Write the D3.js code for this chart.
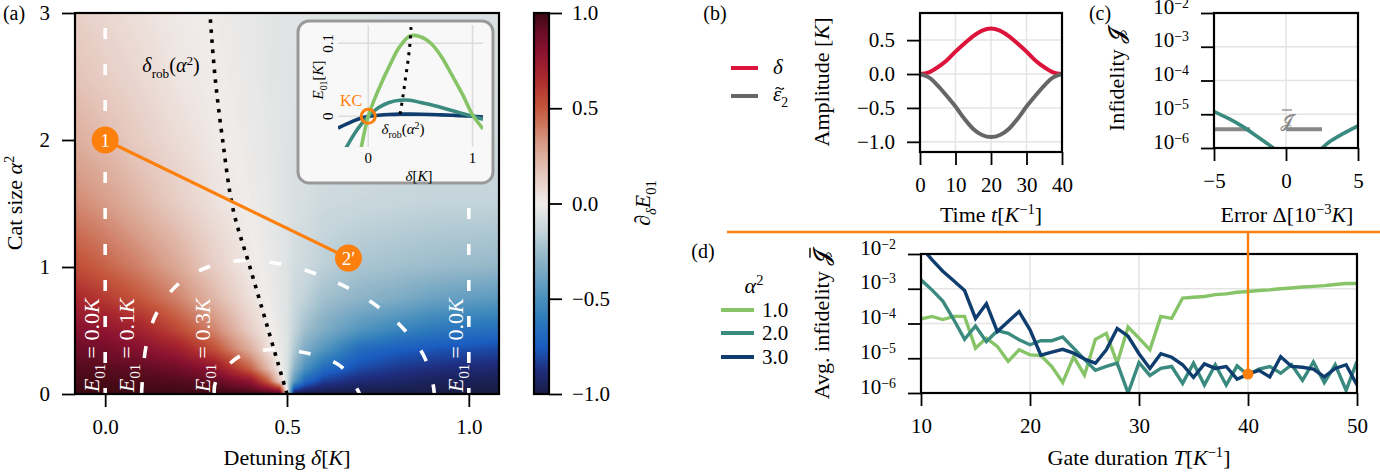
<!DOCTYPE html>
<html>
<head>
<meta charset="utf-8">
<script src="https://cdn.jsdelivr.net/npm/d3@7"></script>
<style>
  body { margin: 0; background: #fff; }
</style>
</head>
<body>
<div id="fig"></div>
<script>
// ---- panel (a): dE01/d(delta), rows = alpha^2, columns = delta
const gridDelta = [-0.1, 0, 0.1, 0.2, 0.3, 0.4, 0.45, 0.48, 0.5, 0.52, 0.55, 0.6, 0.7, 0.8, 0.9, 1.0, 1.1];
const gridAlpha = [0, 0.1, 0.2, 0.35, 0.5, 0.75, 1.0, 1.5, 2.0, 2.5, 3.0];
const gridSlope = [
  [1, 1, 1, 1, 1, 1, 1, 1, 0, -1, -1, -1, -1, -1, -1, -1, -1],
  [0.98, 0.97, 0.96, 0.95, 0.92, 0.78, 0.47, 0.13, -0.1, -0.45, -0.7, -0.83, -0.9, -0.92, -0.95, -0.96, -0.97],
  [0.955, 0.935, 0.92, 0.88, 0.78, 0.47, 0.2, 0.015, -0.08, -0.3, -0.5, -0.68, -0.8, -0.85, -0.88, -0.9, -0.91],
  [0.9, 0.87, 0.81, 0.72, 0.53, 0.25, 0.06, -0.02, -0.06, -0.2, -0.35, -0.47, -0.68, -0.74, -0.77, -0.79, -0.81],
  [0.82, 0.78, 0.7, 0.55, 0.38, 0.13, 0.015, -0.03, -0.06, -0.15, -0.25, -0.34, -0.48, -0.56, -0.62, -0.65, -0.67],
  [0.69, 0.6, 0.5, 0.38, 0.22, 0.05, -0.01, -0.04, -0.06, -0.12, -0.16, -0.24, -0.3, -0.34, -0.4, -0.43, -0.45],
  [0.55, 0.47, 0.38, 0.27, 0.13, 0.015, -0.02, -0.04, -0.06, -0.1, -0.12, -0.17, -0.22, -0.24, -0.26, -0.27, -0.28],
  [0.38, 0.31, 0.22, 0.13, 0.05, -0.01, -0.03, -0.05, -0.06, -0.08, -0.09, -0.12, -0.13, -0.14, -0.15, -0.15, -0.15],
  [0.26, 0.2, 0.13, 0.07, 0.015, -0.02, -0.035, -0.05, -0.06, -0.07, -0.07, -0.09, -0.1, -0.1, -0.1, -0.1, -0.1],
  [0.18, 0.13, 0.085, 0.03, 0, -0.025, -0.04, -0.05, -0.05, -0.06, -0.06, -0.07, -0.08, -0.08, -0.08, -0.08, -0.08],
  [0.13, 0.09, 0.05, 0.015, -0.01, -0.03, -0.04, -0.05, -0.05, -0.05, -0.05, -0.06, -0.06, -0.07, -0.07, -0.07, -0.07]
];
const cmapStops = [-1, -0.88, -0.75, -0.6, -0.5, -0.3, -0.15, 0, 0.15, 0.3, 0.5, 0.65, 0.8, 0.9, 1];
const cmapColors = ["#181c43", "#1f2c7c", "#1a5cc0", "#2f7cbc", "#4a90bd", "#8cb3c7", "#c3d4da", "#f0ecea",
  "#e6c9bf", "#d9a08c", "#c4573c", "#ad2b2e", "#8a1230", "#690d25", "#3c0912"];
const cbarTicks = [-1, -0.5, 0, 0.5, 1];

// contour lines E01 = const (white dashed)
const zeroContourDelta = [0, 1];
const contour01Delta = [0.1, 0.112, 0.141, 0.198, 0.283, 0.37, 0.47, 0.571, 0.661, 0.744, 0.815, 0.875, 0.902, 0.905];
const contour01Alpha = [0.0, 0.37, 0.635, 0.858, 1.0, 1.05, 1.03, 0.955, 0.845, 0.70, 0.53, 0.307, 0.07, 0];
const contour03Delta = [0.3, 0.304, 0.368, 0.458, 0.557, 0.649, 0.7];
const contour03Alpha = [0.0, 0.097, 0.294, 0.35, 0.32, 0.215, 0.0];
// delta_rob(alpha^2) dotted
const robAlpha = [0, 0.5, 1.0, 1.45, 2.0, 2.5, 3.0];
const robDelta = [0.5, 0.449, 0.398, 0.352, 0.323, 0.302, 0.288];
// orange path 1 -> 2'
const pathDelta = [0, 0.669];
const pathAlpha = [2, 1.07];
const pathLabels = ["1", "2\u2032"];

// inset E01(delta)
const insetDelta = [-0.29, -0.2, -0.1, 0, 0.1, 0.2, 0.3, 0.4, 0.5, 0.6, 0.7, 0.8, 0.9, 1.0, 1.1];
const insetE1 = [-0.22, -0.15, -0.068, 0, 0.037, 0.068, 0.095, 0.11, 0.109, 0.1, 0.082, 0.057, 0.031, 0.002, -0.017];
const insetE2 = [-0.065, -0.04, -0.017, 0, 0.012, 0.019, 0.022, 0.022, 0.019, 0.016, 0.012, 0.008, 0.004, 0.0, -0.004];
const insetE3 = [-0.016, -0.01, -0.004, 0, 0.0015, 0.0025, 0.003, 0.003, 0.0028, 0.0025, 0.002, 0.0015, 0.001, 0.0, -0.001];
const insetRobDelta = [0.305, 0.33, 0.355, 0.38, 0.4, 0.41];
const insetRobE = [0.003, 0.025, 0.05, 0.075, 0.1, 0.122];

// ---- panel (b): pulse shapes
const timeB = [0, 2.5, 5, 7.5, 10, 12.5, 15, 17.5, 20, 22.5, 25, 27.5, 30, 32.5, 35, 37.5, 40];
const deltaB = [0, 0.025, 0.1, 0.2, 0.33, 0.45, 0.56, 0.64, 0.67, 0.64, 0.56, 0.45, 0.33, 0.2, 0.1, 0.025, 0];
const eps2B = [0, -0.05, -0.17, -0.32, -0.48, -0.66, -0.81, -0.9, -0.93, -0.9, -0.81, -0.66, -0.48, -0.32, -0.17, -0.05, 0];

// ---- panel (c): infidelity vs error
const errC = [-5, -4, -3, -2, -1, 0, 1, 2, 3, 4, 5];
const infidC = [1.2e-5, 7.5e-6, 4.3e-6, 2.2e-6, 1.1e-6, 5.5e-7, 4e-7, 6.5e-7, 1.5e-6, 2.7e-6, 4.5e-6];
const avgInfidC = 3.6e-6;

// ---- panel (d): avg infidelity vs gate duration
const gateT = d3.range(10, 51);
const alphaLabels = ["1.0", "2.0", "3.0"];
const seriesColors = ["#86c467", "#3a8a7f", "#0f3d6e"];
const infidA1 = [1.35e-4, 1.6e-4, 1.3e-4, 1.6e-4, 1.6e-4, 1.95e-5, 3.8e-5, 2.2e-5, 8.1e-6, 1.75e-5,
  1.25e-5, 1.2e-5, 5.8e-6, 2.0e-6, 1.1e-5, 3.3e-6, 3.5e-5, 5.2e-5, 7.2e-6, 7.9e-5,
  3.8e-5, 1.75e-5, 1.6e-4, 1.4e-4, 5.4e-4, 5.7e-4, 6.0e-4, 6.8e-4, 7.1e-4, 7.9e-4,
  8.3e-4, 8.9e-4, 9.3e-4, 1.0e-3, 1.05e-3, 1.12e-3, 1.17e-3, 1.23e-3, 1.32e-3, 1.41e-3, 1.41e-3];
const infidA2 = [1.8e-3, 9.3e-4, 4.4e-4, 1.3e-4, 3.5e-5, 8.5e-5, 3.0e-5, 6.2e-5, 5.2e-5, 3.4e-5,
  2.45e-5, 3.2e-5, 3.2e-5, 4.1e-5, 1.95e-5, 9.3e-6, 4.5e-6, 5.8e-6, 7.2e-6, 1.0e-6,
  7.5e-6, 3.2e-6, 5.1e-6, 5.8e-6, 1.9e-6, 7.2e-6, 1.7e-6, 6.5e-6, 1.7e-6, 6.0e-6,
  3.3e-6, 4.9e-6, 5.8e-6, 3.7e-6, 6.5e-6, 2.3e-6, 7.8e-6, 2.0e-6, 6.5e-6, 1.2e-6, 8.1e-6];
const infidA3 = [1.6e-2, 6.9e-3, 3.2e-3, 1.7e-3, 8.9e-4, 1.4e-4, 3.7e-4, 5.9e-5, 1.15e-4, 2.2e-4,
  6.6e-5, 1.23e-5, 1.5e-5, 1.8e-5, 1.4e-5, 9.5e-6, 7.2e-6, 1.75e-5, 7.2e-5, 4.3e-5,
  1.35e-5, 5.1e-6, 1.35e-5, 1.07e-5, 6.5e-6, 2.8e-6, 6.9e-6, 5.1e-6, 5.8e-6, 2.5e-6,
  3.5e-6, 4.5e-6, 2.9e-6, 1.1e-5, 5.8e-6, 5.5e-6, 4.9e-6, 2.9e-6, 5.1e-6, 6.5e-6, 1.7e-6];
const markT = 40;
const markInfid = 3.5e-6;

const logTickValues = [1e-2, 1e-3, 1e-4, 1e-5, 1e-6];

// ---------------------------------------------------------------
const FONT = '"Liberation Serif", "DejaVu Serif", serif';
const ORANGE = "#fd7f0c";
const GRID = "#e4e4e4";
const FS = 22;      // axis labels
const TS = 21;      // tick labels
const TICK = 13, PAD = 12;
const SCRIPT_J = "\ud835\udcd9";

const svg = d3.select("#fig").append("svg")
  .attr("width", 1380).attr("height", 472)
  .style("font-family", FONT);

// rich text helper: parts = [[string, flags]], flags i=italic, b=sub, p=sup
function rich(text, parts, size, supShift = 0.36) {
  let cur = 0;
  parts.forEach(([s, f = ""]) => {
    const off = f.includes("b") ? 0.28 * size : f.includes("p") ? -supShift * size : 0;
    const ts = text.append("tspan").attr("dy", off - cur).text(s);
    cur = off;
    if (f.includes("i")) ts.attr("font-style", "italic");
    if (f.includes("b") || f.includes("p")) ts.attr("font-size", 0.66 * size);
  });
  return text;
}

function label(x, y, parts, opts = {}) {
  const t = svg.append("text")
    .attr("x", x).attr("y", y)
    .attr("text-anchor", opts.anchor || "middle")
    .attr("font-size", opts.size || FS)
    .attr("fill", opts.fill || "#000");
  if (opts.rotate) t.attr("transform", `rotate(${opts.rotate},${x},${y})`);
  return rich(t, parts, opts.size || FS);
}

function styleAxis(g, size = TS) {
  g.select(".domain").remove();
  g.selectAll(".tick line").attr("stroke", "#000").attr("stroke-width", 1.8);
  g.selectAll(".tick text").attr("font-size", size).attr("fill", "#000").attr("font-family", FONT);
}

function logLabels(g, size = TS) {
  g.selectAll(".tick text").each(function (d) {
    const t = d3.select(this).text(null).attr("dy", "0.5em");
    rich(t, [["10"], ["\u2212" + Math.round(-Math.log10(d)), "p"]], size, 0.28);
  });
}

function frame(x0, x1, y0, y1) {
  svg.append("rect").attr("x", x0).attr("y", y0)
    .attr("width", x1 - x0).attr("height", y1 - y0)
    .attr("fill", "none").attr("stroke", "#000").attr("stroke-width", 2.2);
}

function clip(id, x0, x1, y0, y1) {
  svg.append("clipPath").attr("id", id).append("rect")
    .attr("x", x0).attr("y", y0).attr("width", x1 - x0).attr("height", y1 - y0);
  return `url(#${id})`;
}

// ================= panel (a) =================
const A = { x0: 75, x1: 499, y0: 13, y1: 394 };
const xA = d3.scaleLinear().domain([-0.083, 1.083]).range([A.x0, A.x1]);
const yA = d3.scaleLinear().domain([0, 3]).range([A.y1, A.y0]);
const color = d3.scaleLinear().domain(cmapStops).range(cmapColors).clamp(true);

function gridValue(d, a) {
  const i = Math.max(0, Math.min(gridDelta.length - 2, d3.bisectRight(gridDelta, d) - 1));
  const j = Math.max(0, Math.min(gridAlpha.length - 2, d3.bisectRight(gridAlpha, a) - 1));
  const tx = Math.max(0, Math.min(1, (d - gridDelta[i]) / (gridDelta[i + 1] - gridDelta[i])));
  const ty = Math.max(0, Math.min(1, (a - gridAlpha[j]) / (gridAlpha[j + 1] - gridAlpha[j])));
  return gridSlope[j][i] * (1 - tx) * (1 - ty) + gridSlope[j][i + 1] * tx * (1 - ty)
    + gridSlope[j + 1][i] * (1 - tx) * ty + gridSlope[j + 1][i + 1] * tx * ty;
}

// heatmap drawn into an image
const W = A.x1 - A.x0, H = A.y1 - A.y0;
const canvas = document.createElement("canvas");
canvas.width = W; canvas.height = H;
const ctx = canvas.getContext("2d");
const img = ctx.createImageData(W, H);
const lut = d3.range(513).map(k => d3.rgb(color(-1 + 2 * k / 512)));
for (let py = 0; py < H; py++) {
  const a = yA.invert(A.y0 + py + 0.5);
  for (let px = 0; px < W; px++) {
    const v = gridValue(xA.invert(A.x0 + px + 0.5), a);
    const c = lut[Math.round((Math.max(-1, Math.min(1, v)) + 1) * 256)];
    const k = 4 * (py * W + px);
    img.data[k] = c.r; img.data[k + 1] = c.g; img.data[k + 2] = c.b; img.data[k + 3] = 255;
  }
}
ctx.putImageData(img, 0, 0);
svg.append("image").attr("x", A.x0).attr("y", A.y0).attr("width", W).attr("height", H)
  .attr("preserveAspectRatio", "none").attr("href", canvas.toDataURL());

const clipA = clip("clipA", A.x0, A.x1, A.y0, A.y1);
const gA = svg.append("g").attr("clip-path", clipA);
const lineA = d3.line().x(d => xA(d[0])).y(d => yA(d[1])).curve(d3.curveCatmullRom);

zeroContourDelta.forEach(d => {
  gA.append("path").datum([[d, 3], [d, 0]]).attr("d", lineA)
    .attr("fill", "none").attr("stroke", "#fff").attr("stroke-width", 3.6)
    .attr("stroke-dasharray", "11,25").attr("stroke-dashoffset", 21);
});
[[contour01Delta, contour01Alpha], [contour03Delta, contour03Alpha]].forEach(([ds, as]) => {
  gA.append("path").datum(d3.zip(ds, as)).attr("d", lineA)
    .attr("fill", "none").attr("stroke", "#fff").attr("stroke-width", 3.6)
    .attr("stroke-dasharray", "12,24");
});
gA.append("path").datum(d3.zip(robDelta, robAlpha)).attr("d", lineA)
  .attr("fill", "none").attr("stroke", "#000").attr("stroke-width", 3.6)
  .attr("stroke-dasharray", "3.6,6.4");

// contour labels
const e01Label = (x, val) => label(x, 392, [["E", "i"], ["01", "b"], [" = " + val], ["K", "i"]],
  { anchor: "start", rotate: -90, fill: "#fff", size: 22 });
e01Label(99, "0.0");
e01Label(134, "0.1");
e01Label(210, "0.3");
e01Label(463, "0.0");

label(171, 72, [["\u03b4", "i"], ["rob", "b"], ["("], ["\u03b1", "i"], ["2", "p"], [")"]], { size: 20 });

// orange path 1 -> 2'
const pathPts = d3.zip(pathDelta, pathAlpha);
gA.append("line")
  .attr("x1", xA(pathPts[0][0])).attr("y1", yA(pathPts[0][1]))
  .attr("x2", xA(pathPts[1][0])).attr("y2", yA(pathPts[1][1]))
  .attr("stroke", ORANGE).attr("stroke-width", 3.2);
pathPts.forEach((p, i) => {
  svg.append("circle").attr("cx", xA(p[0])).attr("cy", yA(p[1])).attr("r", 13.5).attr("fill", ORANGE);
  svg.append("text").attr("x", xA(p[0])).attr("y", yA(p[1]) + 6.5)
    .attr("text-anchor", "middle").attr("fill", "#fff").attr("font-size", 19).text(pathLabels[i]);
});

// inset
const IN = { x0: 338, x1: 483, y0: 25, y1: 147 };
svg.append("rect").attr("x", 298).attr("y", 21).attr("width", 195).attr("height", 162)
  .attr("rx", 11).attr("fill", "#f8f8f8").attr("stroke", "#999").attr("stroke-width", 3);
const xi = d3.scaleLinear().domain([-0.29, 1.1]).range([IN.x0, IN.x1]);
const yi = d3.scaleLinear().domain([-0.042, 0.125]).range([IN.y1, IN.y0]);
[0, 1].forEach(d => svg.append("line").attr("x1", xi(d)).attr("x2", xi(d)).attr("y1", IN.y0).attr("y2", IN.y1)
  .attr("stroke", "#dcdcdc").attr("stroke-width", 1.6));
[0, 0.1].forEach(d => svg.append("line").attr("x1", IN.x0).attr("x2", IN.x1).attr("y1", yi(d)).attr("y2", yi(d))
  .attr("stroke", "#dcdcdc").attr("stroke-width", 1.6));
const clipIn = clip("clipIn", IN.x0, IN.x1, IN.y0, IN.y1);
const gIn = svg.append("g").attr("clip-path", clipIn);
const lineIn = d3.line().x(d => xi(d[0])).y(d => yi(d[1])).curve(d3.curveCatmullRom);
[insetE3, insetE2, insetE1].forEach((ys, k) => {
  gIn.append("path").datum(d3.zip(insetDelta, ys)).attr("d", lineIn)
    .attr("fill", "none").attr("stroke", seriesColors[2 - k]).attr("stroke-width", 3.6);
});
gIn.append("path").datum(d3.zip(insetRobDelta, insetRobE))
  .attr("d", d3.line().x(d => xi(d[0])).y(d => yi(d[1])).curve(d3.curveMonotoneY))
  .attr("fill", "none").attr("stroke", "#000").attr("stroke-width", 3)
  .attr("stroke-dasharray", "3,5.5");
svg.append("circle").attr("cx", xi(0)).attr("cy", yi(0)).attr("r", 7)
  .attr("fill", "none").attr("stroke", ORANGE).attr("stroke-width", 3);
svg.append("text").attr("x", 351).attr("y", 106).attr("text-anchor", "middle")
  .attr("font-size", 16).attr("fill", ORANGE).text("KC");
label(403, 134, [["\u03b4", "i"], ["rob", "b"], ["("], ["\u03b1", "i"], ["2", "p"], [")"]], { size: 15 });
[0, 1].forEach(d => svg.append("text").attr("x", xi(d)).attr("y", 163).attr("text-anchor", "middle")
  .attr("font-size", 15).text(d));
[0, 0.1].forEach(d => svg.append("text").attr("x", 333).attr("y", yi(d)).attr("text-anchor", "middle")
  .attr("font-size", 15).attr("transform", `rotate(-90,333,${yi(d)})`).text(d));
label(323, 80, [["E", "i"], ["01", "b"], ["["], ["K", "i"], ["]"]], { size: 15, rotate: -90 });
label(419, 181, [["\u03b4", "i"], ["["], ["K", "i"], ["]"]], { size: 15 });

frame(A.x0, A.x1, A.y0, A.y1);
const axA = svg.append("g").attr("transform", `translate(0,${A.y1})`)
  .call(d3.axisBottom(xA).tickValues([0, 0.5, 1]).tickFormat(d3.format(".1f")).tickSize(TICK).tickPadding(PAD));
styleAxis(axA);
const ayA = svg.append("g").attr("transform", `translate(${A.x0},0)`)
  .call(d3.axisLeft(yA).tickValues([0, 1, 2, 3]).tickFormat(d3.format("d")).tickSize(TICK).tickPadding(PAD));
styleAxis(ayA);
label(287, 465, [["Detuning "], ["\u03b4", "i"], ["["], ["K", "i"], ["]"]]);
label(22, 203, [["Cat size "], ["\u03b1", "i"], ["2", "p"]], { rotate: -90 });
label(14, 20, [["(a)"]], { size: 20 });

// colorbar
const CB = { x0: 534, x1: 549 };
const cbScale = d3.scaleLinear().domain([-1, 1]).range([A.y1, A.y0]);
const grad = svg.append("defs").append("linearGradient").attr("id", "cbGrad")
  .attr("x1", 0).attr("y1", 1).attr("x2", 0).attr("y2", 0);
cmapStops.forEach((s, i) => grad.append("stop").attr("offset", (s + 1) / 2).attr("stop-color", cmapColors[i]));
svg.append("rect").attr("x", CB.x0).attr("y", A.y0).attr("width", CB.x1 - CB.x0).attr("height", A.y1 - A.y0)
  .attr("fill", "url(#cbGrad)");
frame(CB.x0, CB.x1, A.y0, A.y1);
const cbAx = svg.append("g").attr("transform", `translate(${CB.x1},0)`)
  .call(d3.axisRight(cbScale).tickValues(cbarTicks).tickFormat(d3.format(".1f")).tickSize(TICK).tickPadding(10));
styleAxis(cbAx);
label(650, 203, [["\u2202"], ["\u03b4", "bi"], ["E", "i"], ["01", "b"]], { rotate: -90, size: 22 });

// ================= panel (b) =================
const B = { x0: 920, x1: 1062, y0: 13, y1: 152 };
const xB = d3.scaleLinear().domain([0, 40]).range([B.x0, B.x1]);
const yB = d3.scaleLinear().domain([-1.15, 0.9]).range([B.y1, B.y0]);
[10, 20, 30].forEach(t => svg.append("line").attr("x1", xB(t)).attr("x2", xB(t)).attr("y1", B.y0).attr("y2", B.y1)
  .attr("stroke", GRID).attr("stroke-width", 1.5));
[0.5, 0, -0.5, -1].forEach(v => svg.append("line").attr("x1", B.x0).attr("x2", B.x1).attr("y1", yB(v)).attr("y2", yB(v))
  .attr("stroke", GRID).attr("stroke-width", 1.5));
const lineB = d3.line().x(d => xB(d[0])).y(d => yB(d[1])).curve(d3.curveMonotoneX);
const pulseColors = ["#dc143c", "#666666"];
[deltaB, eps2B].forEach((ys, k) => {
  svg.append("path").datum(d3.zip(timeB, ys)).attr("d", lineB)
    .attr("fill", "none").attr("stroke", pulseColors[k]).attr("stroke-width", 4);
});
frame(B.x0, B.x1, B.y0, B.y1);
const axB = svg.append("g").attr("transform", `translate(0,${B.y1})`)
  .call(d3.axisBottom(xB).tickValues([0, 10, 20, 30, 40]).tickSize(TICK).tickPadding(PAD));
styleAxis(axB);
const ayB = svg.append("g").attr("transform", `translate(${B.x0},0)`)
  .call(d3.axisLeft(yB).tickValues([0.5, 0, -0.5, -1]).tickFormat(d3.format(".1f")).tickSize(TICK).tickPadding(PAD));
styleAxis(ayB);
label(991, 222, [["Time "], ["t", "i"], ["["], ["K", "i"], ["\u22121", "p"], ["]"]]);
label(829, 82, [["Amplitude ["], ["K", "i"], ["]"]], { rotate: -90 });
label(715, 20, [["(b)"]], { size: 20 });
// legend (b)
[68, 96].forEach((y, k) => {
  svg.append("line").attr("x1", 731).attr("x2", 758).attr("y1", y).attr("y2", y)
    .attr("stroke", pulseColors[k]).attr("stroke-width", 4);
});
label(773, 74, [["\u03b4", "i"]], { anchor: "start", size: 21 });
label(773, 101, [["\u03b5", "i"], ["2", "b"]], { anchor: "start", size: 21 });
// tilde accent over epsilon
svg.append("path").attr("d", "M775.5,89 q2,-2.6 4.2,-0.6 t4.2,-0.6")
  .attr("fill", "none").attr("stroke", "#000").attr("stroke-width", 1.2);

// ================= panel (c) =================
const C = { x0: 1214, x1: 1358, y0: 13, y1: 148 };
const xC = d3.scaleLinear().domain([-5, 5]).range([C.x0, C.x1]);
const yC = d3.scaleLog().domain([1e-6, 1e-2]).range([C.y1, C.y0]);
svg.append("line").attr("x1", xC(0)).attr("x2", xC(0)).attr("y1", C.y0).attr("y2", C.y1)
  .attr("stroke", GRID).attr("stroke-width", 1.5);
logTickValues.forEach(v => svg.append("line").attr("x1", C.x0).attr("x2", C.x1).attr("y1", yC(v)).attr("y2", yC(v))
  .attr("stroke", GRID).attr("stroke-width", 1.5));
const clipC = clip("clipC", C.x0, C.x1, C.y0, C.y1);
const gC = svg.append("g").attr("clip-path", clipC);
gC.append("line").attr("x1", xC(-5)).attr("x2", xC(5)).attr("y1", yC(avgInfidC)).attr("y2", yC(avgInfidC))
  .attr("stroke", "#888").attr("stroke-width", 4)
  .attr("stroke-dasharray", `${xC(-2.5) - xC(-5)},${xC(-2.5) - xC(-5)}`);
gC.append("path").datum(d3.zip(errC, infidC))
  .attr("d", d3.line().x(d => xC(d[0])).y(d => yC(d[1])).curve(d3.curveMonotoneX))
  .attr("fill", "none").attr("stroke", seriesColors[1]).attr("stroke-width", 3.6);
// J-bar label
svg.append("text").attr("x", 1286).attr("y", 127).attr("text-anchor", "middle")
  .attr("font-size", 18).attr("fill", "#888").text(SCRIPT_J);
svg.append("line").attr("x1", 1282).attr("x2", 1292).attr("y1", 110).attr("y2", 110)
  .attr("stroke", "#888").attr("stroke-width", 1.3);
frame(C.x0, C.x1, C.y0, C.y1);
const axC = svg.append("g").attr("transform", `translate(0,${C.y1})`)
  .call(d3.axisBottom(xC).tickValues([-5, 0, 5]).tickSize(TICK).tickPadding(PAD));
styleAxis(axC);
const ayC = svg.append("g").attr("transform", `translate(${C.x0},0)`)
  .call(d3.axisLeft(yC).tickValues(logTickValues).tickSize(TICK).tickPadding(PAD));
styleAxis(ayC);
logLabels(ayC);
label(1287, 222, [["Error \u0394[10"], ["\u22123", "p"], ["K", "i"], ["]"]]);
label(1124, 80, [["Infidelity "], [SCRIPT_J]], { rotate: -90 });
label(1100, 20, [["(c)"]], { size: 20 });

// ================= panel (d) =================
const D = { x0: 921, x1: 1357, y0: 254, y1: 393 };
const xD = d3.scaleLinear().domain([10, 50]).range([D.x0, D.x1]);
const yD = d3.scaleLog().domain([1e-6, 1e-2]).range([D.y1, D.y0]);
[20, 30, 40].forEach(t => svg.append("line").attr("x1", xD(t)).attr("x2", xD(t)).attr("y1", D.y0).attr("y2", D.y1)
  .attr("stroke", GRID).attr("stroke-width", 1.5));
logTickValues.forEach(v => svg.append("line").attr("x1", D.x0).attr("x2", D.x1).attr("y1", yD(v)).attr("y2", yD(v))
  .attr("stroke", GRID).attr("stroke-width", 1.5));
const clipD = clip("clipD", D.x0, D.x1, D.y0, D.y1);
const gD = svg.append("g").attr("clip-path", clipD);
const lineD = d3.line().x(d => xD(d[0])).y(d => yD(d[1]));
[infidA1, infidA2, infidA3].forEach((ys, k) => {
  gD.append("path").datum(d3.zip(gateT, ys)).attr("d", lineD)
    .attr("fill", "none").attr("stroke", seriesColors[k]).attr("stroke-width", 3.4)
    .attr("stroke-linejoin", "miter");
});
frame(D.x0, D.x1, D.y0, D.y1);
const axD = svg.append("g").attr("transform", `translate(0,${D.y1})`)
  .call(d3.axisBottom(xD).tickValues([10, 20, 30, 40, 50]).tickSize(TICK).tickPadding(PAD));
styleAxis(axD);
const ayD = svg.append("g").attr("transform", `translate(${D.x0},0)`)
  .call(d3.axisLeft(yD).tickValues(logTickValues).tickSize(TICK).tickPadding(PAD));
styleAxis(ayD);
logLabels(ayD);
label(1139, 465, [["Gate duration "], ["T", "i"], ["["], ["K", "i"], ["\u22121", "p"], ["]"]]);
const jbar = label(829, 325, [["Avg. infidelity "], [SCRIPT_J]], { rotate: -90 });
// bar over the script J (in rotated frame)
const jbox = jbar.node().getBBox();
svg.append("line")
  .attr("x1", jbox.x + jbox.width - 12).attr("x2", jbox.x + jbox.width - 2)
  .attr("y1", jbox.y + 1).attr("y2", jbox.y + 1)
  .attr("transform", `rotate(-90,829,325)`)
  .attr("stroke", "#000").attr("stroke-width", 1.4);
label(703, 258, [["(d)"]], { size: 20 });
// legend (d)
label(754, 293, [["\u03b1", "i"], ["2", "p"]]);
[310, 333, 357].forEach((y, k) => {
  svg.append("line").attr("x1", 721).attr("x2", 754).attr("y1", y).attr("y2", y)
    .attr("stroke", seriesColors[k]).attr("stroke-width", 4);
  label(762, y + 7, [[alphaLabels[k]]], { anchor: "start", size: TS });
});

// orange connector from panel (a) path to panel (d)
svg.append("line").attr("x1", 727).attr("x2", 1380).attr("y1", 232).attr("y2", 232)
  .attr("stroke", ORANGE).attr("stroke-width", 2.4);
svg.append("line").attr("x1", xD(markT)).attr("x2", xD(markT)).attr("y1", 232).attr("y2", yD(markInfid))
  .attr("stroke", ORANGE).attr("stroke-width", 2.4);
svg.append("circle").attr("cx", xD(markT)).attr("cy", yD(markInfid)).attr("r", 5.5).attr("fill", ORANGE);
</script>
</body>
</html>
